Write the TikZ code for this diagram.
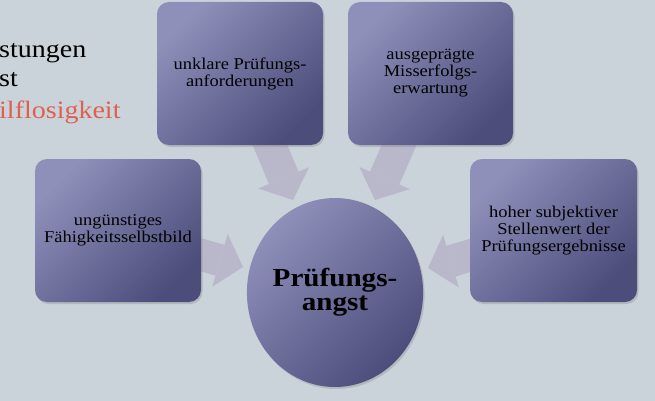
\documentclass[tikz,border=0pt]{standalone}
\usepackage{fontspec}
\setmainfont[FakeStretch=1.12]{Liberation Serif}
\usetikzlibrary{shapes.geometric,shadows,arrows.meta}

\definecolor{slidebg}{HTML}{C9D3D9}
\definecolor{boxlight}{HTML}{8E90BA}
\definecolor{boxdark}{HTML}{4C4D7B}
\definecolor{arrowfill}{HTML}{B9B8CB}
\definecolor{hilite}{HTML}{E06050}

\pgfdeclarelayer{bg}
\pgfdeclarelayer{arrows}
\pgfsetlayers{bg,arrows,main}

\tikzset{
  causebox/.style={rectangle, rounded corners=12pt, minimum width=166pt,
    minimum height=143pt, top color=boxlight, bottom color=boxdark,
    shading angle=45, align=center, inner sep=2pt,
    font=\fontsize{16.5}{17}\selectfont,
    drop shadow={shadow xshift=1.5pt, shadow yshift=-2pt, opacity=0.3}},
  corebox/.style={ellipse, minimum width=176pt, minimum height=189pt,
    inner sep=0pt, top color=boxlight, bottom color=boxdark,
    shading angle=45, align=center,
    font=\fontsize{26}{24}\selectfont\bfseries,
    drop shadow={shadow xshift=1.5pt, shadow yshift=-2pt, opacity=0.3}},
  feedarrow/.style={draw=arrowfill, line width=32pt,
    -{Triangle[length=24pt, width=55pt, line width=0pt]}},
  slidetext/.style={anchor=base west, inner sep=0pt,
    font=\fontsize{25}{25}\selectfont}
}

\begin{document}
\begin{tikzpicture}[x=1pt, y=-1pt]
  \useasboundingbox (0,0) rectangle (655,401);
  \begin{pgfonlayer}{bg}
    \fill[slidebg] (0,0) rectangle (655,401);
  \end{pgfonlayer}

  % text of the slide behind
  \node[slidetext] (leist) at (-1,58) {stungen};
  \node[slidetext] (angstw) at (-1,87) {st};
  \node[slidetext, text=hilite] (hilf) at (-1,118) {ilflosigkeit};

  % causes
  \node[causebox] (fbild)   at (118,230.5)  {ungünstiges\\Fähigkeitsselbstbild};
  \node[causebox] (anford)  at (240,73.5)   {unklare Prüfungs-\\anforderungen};
  \node[causebox, minimum width=165pt] (erwart) at (430.5,73.5) {ausgeprägte\\Misserfolgs-\\erwartung};
  \node[causebox, minimum width=167pt] (stellen) at (553.5,230.5) {hoher subjektiver\\Stellenwert der\\Prüfungsergebnisse};

  % centre
  \node[corebox] (angst) at (335,292.5) {Prüfungs-\\angst};

  % arrow tips
  \coordinate (tipL)  at (243,267);
  \coordinate (tipTL) at (293,200);
  \coordinate (tipTR) at (375,200);
  \coordinate (tipR)  at (428,268);

  \begin{pgfonlayer}{arrows}
    \draw[feedarrow] (fbild.center)   -- (tipL);
    \draw[feedarrow] (anford.center)  -- (tipTL);
    \draw[feedarrow] (erwart.center)  -- (tipTR);
    \draw[feedarrow] (stellen.center) -- (tipR);
  \end{pgfonlayer}
\end{tikzpicture}
\end{document}
